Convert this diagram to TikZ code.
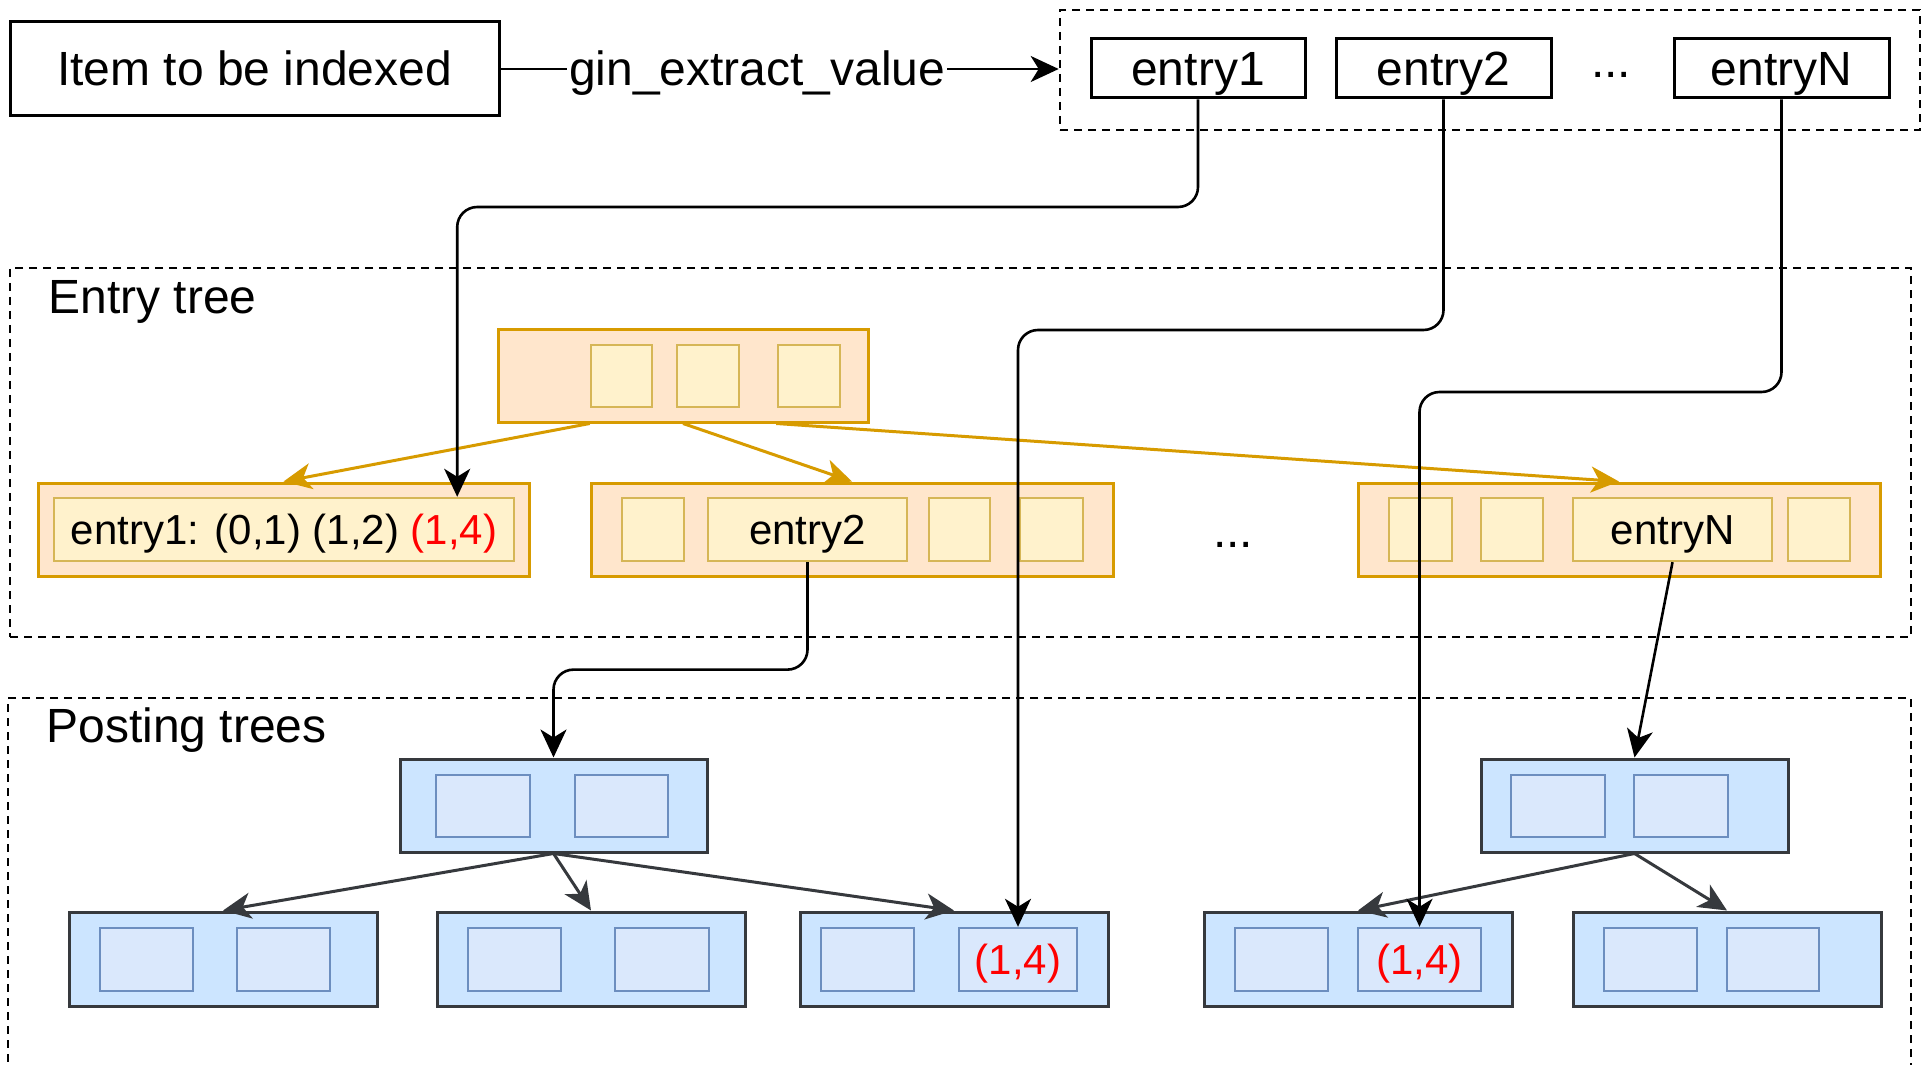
\documentclass[tikz,border=0pt]{standalone}
\usepackage{fontspec}
\setmainfont{Liberation Sans}
\usetikzlibrary{arrows.meta, positioning, fit, calc}
\definecolor{etfill}{HTML}{FFE6CC}
\definecolor{etline}{HTML}{D79B00}
\definecolor{etslotfill}{HTML}{FFF2CC}
\definecolor{etslotline}{HTML}{D6B656}
\definecolor{ptfill}{HTML}{CCE5FF}
\definecolor{ptline}{HTML}{36393D}
\definecolor{ptslotfill}{HTML}{DAE8FC}
\definecolor{ptslotline}{HTML}{6C8EBF}
\definecolor{hitred}{HTML}{FF0000}
\tikzset{
    bigfont/.style={font=\fontsize{24}{28}\selectfont},
    smallfont/.style={font=\fontsize{21}{25}\selectfont},
    bigtext/.style={bigfont, inner sep=0pt, text height=21.7pt, text depth=5.1pt},
    smalltext/.style={smallfont, inner sep=0pt, text height=19pt, text depth=4.5pt},
    plainbox/.style={draw, line width=1.5pt, inner sep=0pt},
    groupbox/.style={draw, line width=1.3pt, dash pattern=on 4pt off 3pt, inner sep=0pt},
    etnode/.style={draw=etline, fill=etfill, line width=1.5pt, inner sep=0pt},
    etslot/.style={draw=etslotline, fill=etslotfill, line width=1.2pt, inner sep=0pt},
    ptnode/.style={draw=ptline, fill=ptfill, line width=1.5pt, inner sep=0pt},
    ptslot/.style={draw=ptslotline, fill=ptslotfill, line width=1.2pt, inner sep=0pt},
    tip/.style={-{Stealth[length=14pt, width=13pt, inset=4pt]}},
    arrow/.style={draw, line width=1.3pt, tip},
    link/.style={arrow, rounded corners=10pt},
    etarrow/.style={draw=etline, line width=1.5pt, tip},
    ptarrow/.style={draw=ptline, line width=1.5pt, tip}
}
\begin{document}
\begin{tikzpicture}[x=0.5pt, y=-0.5pt]
    \useasboundingbox (0,0) rectangle (1927,1065);
    % extraction step
    \node[plainbox, fit={(10,22) (499,116)}] (item) {};
    \node[bigtext] (itemtext) at (item) {Item to be indexed};
    \node[groupbox, fit={(1060,10) (1920,130)}] (extract) {};
    \node[plainbox, fit={(1091,39) (1305,98)}] (t1) {};
    \node[bigtext] (t1text) at (t1) {entry1};
    \node[plainbox, fit={(1336,39) (1551,98)}] (t2) {};
    \node[bigtext] (t2text) at (t2) {entry2};
    \node[bigfont] (tdots) at (1611,75) {...};
    \node[plainbox, fit={(1674,39) (1889,98)}] (tN) {};
    \node[bigtext] (tNtext) at (tN) {entryN};
    \draw[arrow] (item.east) -- node[pos=0.46, fill=white, bigtext, inner sep=1pt] (extractlabel) {gin\_extract\_value} (item.east -| extract.west);

    % entry tree
    \node[groupbox, fit={(10,268) (1911,637)}] (etree) {};
    \node[bigfont, anchor=base west, inner sep=0pt] (etlabel) at (48,313) {Entry tree};
    \node[etnode, fit={(498,329) (868,422)}] (eroot) {};
    \node[etslot, fit={(591,345) (652,407)}] (er1) {};
    \node[etslot, fit={(677,345) (739,407)}] (er2) {};
    \node[etslot, fit={(778,345) (840,407)}] (er3) {};
    \node[etnode, fit={(38,483) (529,576)}] (eleaf1) {};
    \node[etslot, fit={(54,498) (514,561)}] (e1slot) {};
    \node[smalltext] (e1text) at (e1slot) {entry1: (0,1) (1,2) \textcolor{hitred}{(1,4)}};
    \node[etnode, fit={(591,483) (1113,576)}] (eleaf2) {};
    \node[etslot, fit={(622,498) (684,561)}] (e2a) {};
    \node[etslot, fit={(708,498) (907,561)}] (e2slot) {};
    \node[smalltext] (e2text) at (e2slot) {entry2};
    \node[etslot, fit={(929,498) (990,561)}] (e2b) {};
    \node[etslot, fit={(1020,498) (1083,561)}] (e2c) {};
    \node[bigfont] (edots) at (1233,545) {...};
    \node[etnode, fit={(1358,483) (1880,576)}] (eleafN) {};
    \node[etslot, fit={(1389,498) (1452,561)}] (eNa) {};
    \node[etslot, fit={(1481,498) (1543,561)}] (eNb) {};
    \node[etslot, fit={(1573,498) (1772,561)}] (eNslot) {};
    \node[smalltext] (eNtext) at (eNslot) {entryN};
    \node[etslot, fit={(1788,498) (1850,561)}] (eNc) {};
    \draw[etarrow] ($(eroot.south west)!0.25!(eroot.south east)$) -- (eleaf1.north);
    \draw[etarrow] (eroot.south) -- (eleaf2.north);
    \draw[etarrow] ($(eroot.south west)!0.75!(eroot.south east)$) -- (eleafN.north);

    % posting trees
    \node[groupbox, fit={(8,698) (1911,1100)}] (ptree) {};
    \node[bigfont, anchor=base west, inner sep=0pt] (ptlabel) at (46,742) {Posting trees};
    \node[ptnode, fit={(400,759) (707,852)}] (proot1) {};
    \node[ptslot, fit={(436,775) (530,837)}] (p0a) {};
    \node[ptslot, fit={(575,775) (668,837)}] (p0b) {};
    \node[ptnode, fit={(69,912) (377,1006)}] (pleaf1) {};
    \node[ptslot, fit={(100,928) (193,991)}] (p1a) {};
    \node[ptslot, fit={(237,928) (330,991)}] (p1b) {};
    \node[ptnode, fit={(437,912) (745,1006)}] (pleaf2) {};
    \node[ptslot, fit={(468,928) (561,991)}] (p2a) {};
    \node[ptslot, fit={(615,928) (709,991)}] (p2b) {};
    \node[ptnode, fit={(800,912) (1108,1006)}] (pleaf3) {};
    \node[ptslot, fit={(821,928) (914,991)}] (p3a) {};
    \node[ptslot, fit={(959,928) (1077,991)}] (p3s2) {};
    \node[smalltext, text=hitred] (p3text) at (p3s2) {(1,4)};
    \node[ptnode, fit={(1481,759) (1788,852)}] (proot2) {};
    \node[ptslot, fit={(1511,775) (1605,837)}] (q0a) {};
    \node[ptslot, fit={(1634,775) (1728,837)}] (q0b) {};
    \node[ptnode, fit={(1204,912) (1512,1006)}] (pleaf4) {};
    \node[ptslot, fit={(1235,928) (1328,991)}] (p4a) {};
    \node[ptslot, fit={(1358,928) (1481,991)}] (p4s2) {};
    \node[smalltext, text=hitred] (p4text) at (p4s2) {(1,4)};
    \node[ptnode, fit={(1573,912) (1881,1006)}] (pleaf5) {};
    \node[ptslot, fit={(1604,928) (1697,991)}] (p5a) {};
    \node[ptslot, fit={(1727,928) (1819,991)}] (p5b) {};
    \draw[ptarrow] (proot1.south) -- (pleaf1.north);
    \draw[ptarrow] (proot1.south) -- (pleaf2.north);
    \draw[ptarrow] (proot1.south) -- (pleaf3.north);
    \draw[ptarrow] (proot2.south) -- (pleaf4.north);
    \draw[ptarrow] (proot2.south) -- (pleaf5.north);

    % links from the extracted entries
    \coordinate (run1) at (0,207);
    \coordinate (run2) at (0,330);
    \coordinate (runN) at (0,392);
    \coordinate (e2mid) at ($(e2slot.south)!0.55!(proot1.north)$);
    \draw[link] (t1.south) -- (t1.south |- run1) -| ([xshift=-29pt]e1slot.north east);
    \draw[link] (t2.south) -- (t2.south |- run2) -| (p3s2.north);
    \draw[link] (tN.south) -- (tN.south |- runN) -| (p4s2.north);
    \draw[link] (e2slot.south) -- (e2slot.south |- e2mid) -| (proot1.north);
    \draw[link] (eNslot.south) -- (proot2.north);
\end{tikzpicture}
\end{document}
